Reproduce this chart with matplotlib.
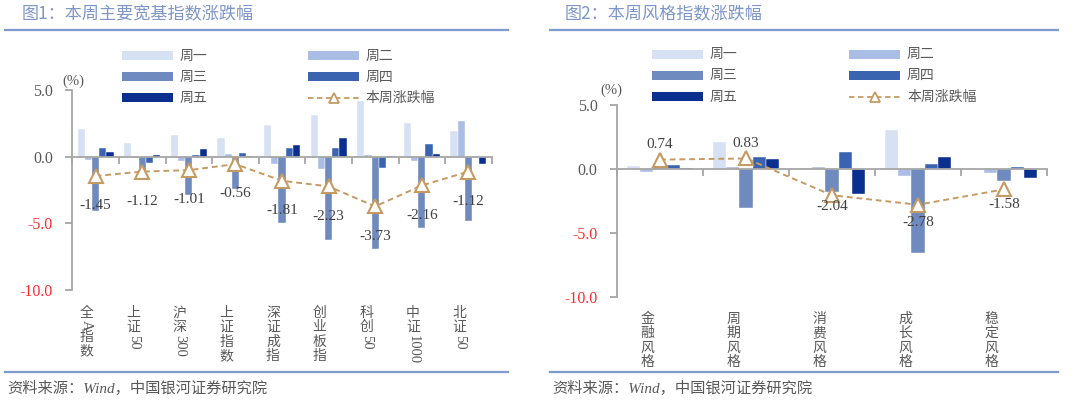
import matplotlib
matplotlib.use("Agg")
import matplotlib.pyplot as plt
import numpy as np
from matplotlib.patches import Rectangle
from matplotlib.lines import Line2D

# ---------------- data ----------------
cats_l = ['全A指数', '上证50', '沪深300', '上证指数', '深证成指', '创业板指', '科创50', '中证1000', '北证50']
mon_l = [2.06, 1.00, 1.62, 1.42, 2.41, 3.11, 4.15, 2.56, 1.92]
tue_l = [-0.25, -0.12, -0.30, 0.17, -0.55, -0.92, 0.12, -0.30, 2.66]
wed_l = [-4.10, -1.40, -2.86, -2.41, -4.98, -6.22, -6.89, -5.35, -4.85]
thu_l = [0.62, -0.50, 0.12, 0.25, 0.62, 0.62, -0.82, 0.95, 0.00]
fri_l = [0.37, 0.10, 0.57, 0.02, 0.87, 1.42, 0.02, 0.17, -0.57]
week_l = [-1.45, -1.12, -1.01, -0.56, -1.81, -2.23, -3.73, -2.16, -1.12]

cats_r = ['金融风格', '周期风格', '消费风格', '成长风格', '稳定风格']
mon_r = [0.26, 2.13, 0.05, 3.06, 0.02]
tue_r = [-0.26, 0.18, 0.13, -0.55, -0.29]
wed_r = [0.35, -3.06, -1.80, -6.52, -0.94]
thu_r = [0.31, 0.91, 1.35, 0.36, 0.18]
fri_r = [0.05, 0.80, -1.92, 0.94, -0.73]
week_r = [0.74, 0.83, -2.04, -2.78, -1.58]

series_names = ['周一', '周二', '周三', '周四', '周五']
line_name = '本周涨跌幅'
yticks = [5.0, 0.0, -5.0, -10.0]

# ---------------- style ----------------
W, H = 1080, 400
bar_colors = ['#d6e1f3', '#aabde4', '#6e8abe', '#3a64b0', '#0b2f8f']
tan = '#c59b62'
grey_axis = '#a6a6a6'
txt = '#595959'
title_c = '#7e96c8'
rule_c = '#7f9acd'
CJK = ['Noto Sans CJK SC', 'DejaVu Sans']
SERIF = ['Liberation Serif', 'Noto Sans CJK SC', 'DejaVu Sans']
plt.rcParams['font.family'] = SERIF

fig = plt.figure(figsize=(W / 100, H / 100), dpi=100)


def fx(x):
    return x / W


def fy(y):
    return 1 - y / H


def draw_panel(rect, cats, series, week, label_offsets, pct_xy, xlab_top_pt, xlab_dx_pt):
    ax = fig.add_axes(rect)
    n = len(cats)
    x = np.arange(n)
    bw = 0.155
    for i, vals in enumerate(series):
        ax.bar(x + (i - 2) * bw, vals, width=bw, color=bar_colors[i],
               edgecolor='white', linewidth=0.3, zorder=2)
    ax.plot(x, week, linestyle='--', dashes=(3, 2), color=tan, lw=1.4, zorder=4)
    ax.plot(x, week, linestyle='none', marker='^', ms=9.5, mfc='white', mec=tan, mew=1.5, zorder=5)
    for xi, v, off in zip(x, week, label_offsets):
        ax.annotate(f'{v:.2f}', xy=(xi, v), xytext=(0, off), textcoords='offset points',
                    ha='center', va='center', fontsize=11, color='#404040',
                    family=SERIF, zorder=6)
    ax.set_xlim(-0.5, n - 0.5)
    ax.set_ylim(-10, 5)
    ax.set_yticks(yticks)
    ax.set_yticklabels([f'{t:.1f}' for t in yticks], family=SERIF, fontsize=11.5)
    for lbl, t in zip(ax.get_yticklabels(), yticks):
        lbl.set_color('#ff2a2a' if t < 0 else txt)
    ax.set_xticks(np.arange(n + 1) - 0.5)
    ax.set_xticklabels([])
    for s in ['top', 'right']:
        ax.spines[s].set_visible(False)
    ax.spines['bottom'].set_position(('data', 0))
    for s in ['left', 'bottom']:
        ax.spines[s].set_color(grey_axis)
        ax.spines[s].set_linewidth(1.3)
        ax.spines[s].set_zorder(3)
    ax.tick_params(axis='y', direction='out', length=5, width=1.3, color=grey_axis, pad=9)
    ax.tick_params(axis='x', direction='out', length=5, width=1.3, color=grey_axis)
    ax.set_facecolor('none')
    # (%) unit
    fig.text(fx(pct_xy[0]), fy(pct_xy[1]), '(%)', ha='center', va='center',
             fontsize=10.5, color=txt, family=SERIF)
    # vertical category labels
    fs = 10
    for xi, lab in zip(x, cats):
        cursor = xlab_top_pt
        i = 0
        while i < len(lab):
            ch = lab[i]
            if ord(ch) < 128:
                j = i
                while j < len(lab) and ord(lab[j]) < 128:
                    j += 1
                run = lab[i:j]
                ax.annotate(run, xy=(xi, 0), xycoords=('data', 'axes fraction'),
                            xytext=(xlab_dx_pt, -cursor), textcoords='offset points',
                            ha='center', va='top', rotation=-90, fontsize=fs + 0.5,
                            color=txt, family=SERIF, annotation_clip=False)
                cursor += len(run) * 0.5 * (fs + 0.5) + 1.5
                i = j
            else:
                ax.annotate(ch, xy=(xi, 0), xycoords=('data', 'axes fraction'),
                            xytext=(xlab_dx_pt, -cursor), textcoords='offset points',
                            ha='center', va='top', fontsize=fs, color=txt,
                            family=CJK, annotation_clip=False)
                cursor += 10.3
                i += 1
    return ax


def draw_legend(col_x, text_x, rows_y):
    order = [(0, 0), (1, 0), (0, 1), (1, 1), (0, 2)]
    for k, (c, r) in enumerate(order):
        x0 = col_x[c]
        yc = rows_y[r]
        fig.add_artist(Rectangle((fx(x0), fy(yc + 4.5)), 51 / W, 9 / H,
                                 transform=fig.transFigure, facecolor=bar_colors[k],
                                 edgecolor='none'))
        fig.text(fx(text_x[c]), fy(yc), series_names[k], ha='left', va='center',
                 fontsize=10, color=txt, family=CJK)
    x0 = col_x[1]
    yc = rows_y[2]
    fig.add_artist(Line2D([fx(x0), fx(x0 + 51)], [fy(yc), fy(yc)], transform=fig.transFigure,
                          ls='--', dashes=(3, 2), color=tan, lw=1.3))
    fig.add_artist(Line2D([fx(x0 + 25.5)], [fy(yc)], transform=fig.transFigure,
                          ls='none', marker='^', ms=7, mfc='white', mec=tan, mew=1.3))
    fig.text(fx(text_x[1]), fy(yc), line_name, ha='left', va='center',
             fontsize=10, color=txt, family=CJK)


# ---------- left panel ----------
axl = draw_panel([fx(72.3), fy(290), fx(491.7) - fx(72.3), (290 - 90) / H],
                 cats_l, [mon_l, tue_l, wed_l, thu_l, fri_l], week_l,
                 [-21.5] * len(week_l), (73.5, 81), 11.5, -6.5)
draw_legend([122, 308], [180, 366], [55.5, 76.7, 97.7])
fig.text(fx(22), fy(14.5), '图1：本周主要宽基指数涨跌幅', ha='left', va='center',
         fontsize=12.3, color=title_c, family=CJK)
fig.add_artist(Line2D([fx(5), fx(508)], [fy(30), fy(30)], transform=fig.transFigure,
                      color=rule_c, lw=1.6))
fig.add_artist(Line2D([fx(5), fx(508)], [fy(372), fy(372)], transform=fig.transFigure,
                      color=rule_c, lw=1.6))
fig.text(fx(7), fy(388), '资料来源：Wind，中国银河证券研究院', ha='left', va='center',
         fontsize=11, color=txt, family=SERIF, style='italic')

# ---------- right panel ----------
axr = draw_panel([fx(617), fy(297.3), fx(1047) - fx(617), (297.3 - 105) / H],
                 cats_r, [mon_r, tue_r, wed_r, thu_r, fri_r], week_r,
                 [11, 11, -8, -13, -11], (611, 90), 10.5, -9)
draw_legend([652, 849], [710, 907], [54, 75.3, 96.5])
fig.text(fx(565), fy(14.5), '图2：本周风格指数涨跌幅', ha='left', va='center',
         fontsize=12.3, color=title_c, family=CJK)
fig.add_artist(Line2D([fx(550), fx(1058)], [fy(30), fy(30)], transform=fig.transFigure,
                      color=rule_c, lw=1.6))
fig.add_artist(Line2D([fx(550), fx(1058)], [fy(372), fy(372)], transform=fig.transFigure,
                      color=rule_c, lw=1.6))
fig.text(fx(552), fy(388), '资料来源：Wind，中国银河证券研究院', ha='left', va='center',
         fontsize=11, color=txt, family=SERIF, style='italic')

fig.savefig('out.png', dpi=100)
